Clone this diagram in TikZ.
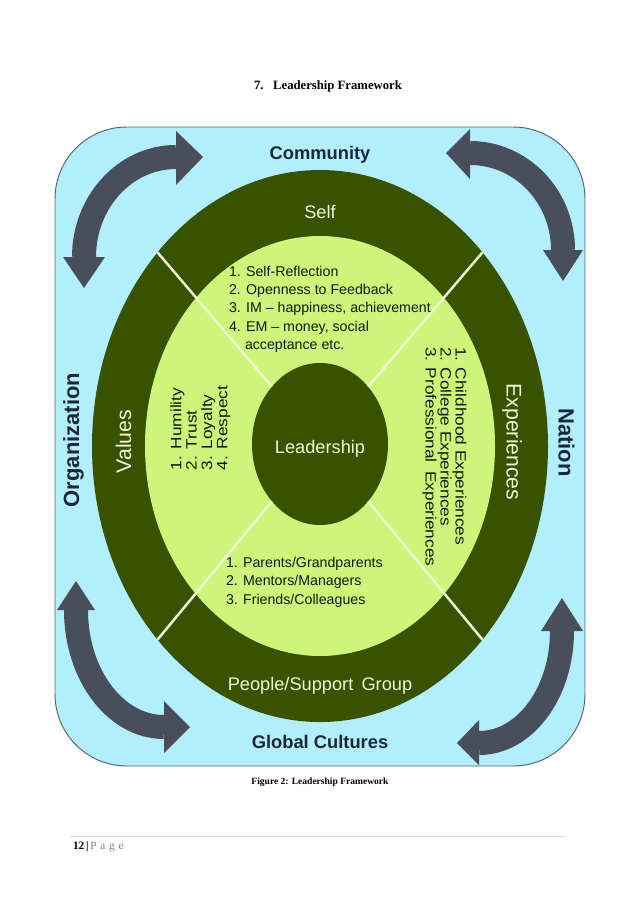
\documentclass[tikz,border=0pt]{standalone}
\usepackage{fontspec}
\usepackage{graphicx}
\setmainfont{Liberation Serif}
\newfontfamily\arial{Liberation Sans}
\usetikzlibrary{shapes.geometric}
\definecolor{bgblue}{RGB}{178,238,252}
\definecolor{darkgreen}{RGB}{56,82,0}
\definecolor{lightgreen}{RGB}{204,245,122}
\definecolor{arrowgray}{RGB}{74,77,90}
\definecolor{navy}{RGB}{28,40,58}
\definecolor{cream}{RGB}{242,245,212}
\definecolor{borderc}{RGB}{85,100,108}
\definecolor{itemc}{RGB}{22,24,20}
\definecolor{rulec}{RGB}{215,215,215}
\definecolor{pagegray}{RGB}{128,128,128}
\begin{document}
\begin{tikzpicture}[x=0.9331pt,y=-0.9331pt,
  box/.style={inner sep=0,outer sep=0},
  ring/.style={ellipse,inner sep=0,outer sep=0,draw=none},
  panel/.style={fill=bgblue,draw=borderc,line width=0.9pt,rounded corners=67pt},
  divider/.style={draw=cream,line width=2.3pt},
  bigarrow/.style={draw=arrowgray,line width=22.4pt},
  arrowtip/.style={fill=arrowgray},
  outerlbl/.style={box,anchor=base,text=navy,font=\arial\bfseries\fontsize{17.1pt}{20pt}\selectfont},
  sidelbl/.style={box,text=navy,font=\arial\bfseries\fontsize{20.5pt}{24pt}\selectfont},
  ringlbl/.style={box,anchor=base,text=cream,font=\arial\fontsize{17pt}{20pt}\selectfont},
  ringside/.style={box,text=cream,font=\arial\fontsize{19.8pt}{22pt}\selectfont},
  item/.style={box,anchor=base west,text=itemc,font=\arial\fontsize{13.25pt}{16pt}\selectfont},
  sideitem/.style={box,anchor=base west,text=itemc,font=\arial\fontsize{14pt}{16pt}\selectfont},
  doctext/.style={box,font=\bfseries\fontsize{11.85pt}{14pt}\selectfont}]
\useasboundingbox (0,0) rectangle (638,903);
\fill[white] (0,0) rectangle (638,903);

% title
\node[doctext,anchor=base west] (title) at (254,89) {7.\hspace{9pt}Leadership Framework};

% panel
\draw[panel] (55,127) rectangle (585,766);

% rings
\node[ring,fill=darkgreen,minimum width=425.5pt,minimum height=515.1pt] (outer) at (320,446) {};
\node[ring,fill=lightgreen,minimum width=326.6pt,minimum height=391.9pt] (inner) at (320,446) {};
\node[ring,fill=darkgreen,minimum width=126.9pt,minimum height=151.2pt] (lead) at (320,444) {};
\foreach \a in {50,130,230,310} \draw[divider] (lead.\a) -- (outer.\a);

% corner arrows
\draw[bigarrow] (176,157) .. controls (125.2,157) and (84,201.8) .. (84,257);
\fill[arrowtip] (176,131) -- (203,157) -- (176,185) -- cycle;
\fill[arrowtip] (63,257) -- (84,288) -- (105,257) -- cycle;

\draw[bigarrow] (470,153) .. controls (521.4,153) and (563,196.4) .. (563,250);
\fill[arrowtip] (470,129) -- (446,153) -- (470,179) -- cycle;
\fill[arrowtip] (543,250) -- (563,281) -- (583,250) -- cycle;

\draw[bigarrow] (76,610) .. controls (76,674.6) and (115.4,727) .. (164,727);
\fill[arrowtip] (57,610) -- (76,581) -- (95,610) -- cycle;
\fill[arrowtip] (164,701) -- (190,727) -- (164,753) -- cycle;

\draw[bigarrow] (562,631) .. controls (562,692.9) and (524.8,743) .. (479,743);
\fill[arrowtip] (541,631) -- (562,598) -- (583,631) -- cycle;
\fill[arrowtip] (479,720) -- (457,743) -- (479,765) -- cycle;

% outer labels
\node[outerlbl] (community) at (320,159) {Community};
\node[outerlbl] (global) at (320,748) {Global Cultures};
\node[sidelbl,rotate=90] (org) at (73.5,440) {Organization};
\node[sidelbl,rotate=-90] (nation) at (566.5,442.5) {Nation};

% ring labels
\node[ringlbl] (self) at (320,218.5) {Self};
\node[ringlbl] (people) at (320,690.5) {People/Support\hspace{0.45em}Group};
\node[ringside,rotate=90] (values) at (123.5,441.5) {Values};
\node[ringside,rotate=-90] (exper) at (512,442) {Experiences};
\node[ringlbl,text=cream] (leadlbl) at (320,453) {Leadership};

% top list
\node[item] (s1) at (229,276) {1. Self-Reflection};
\node[item] (s2) at (229,294.4) {2. Openness to Feedback};
\node[item] (s3) at (229,312.8) {3. IM \textendash{} happiness, achievement};
\node[item] (s4) at (229,331.2) {4. EM \textendash{} money, social};
\node[item] (s5) at (245,349.6) {acceptance etc.};

% bottom list
\node[item] (p1) at (226,567) {1. Parents/Grandparents};
\node[item] (p2) at (226,585.5) {2. Mentors/Managers};
\node[item] (p3) at (226,604) {3. Friends/Colleagues};

% values list
\node[sideitem,rotate=90] (v1) at (181.4,470) {\scalebox{1.15}[1]{1. Humility}};
\node[sideitem,rotate=90] (v2) at (196.6,470) {\scalebox{1.15}[1]{2. Trust}};
\node[sideitem,rotate=90] (v3) at (212.2,470) {\scalebox{1.15}[1]{3. Loyalty}};
\node[sideitem,rotate=90] (v4) at (227.4,470) {\scalebox{1.15}[1]{4. Respect}};

% experiences list
\node[sideitem,rotate=-90] (e1) at (455.6,347) {\scalebox{1.15}[1]{1. Childhood Experiences}};
\node[sideitem,rotate=-90] (e2) at (440.6,347) {\scalebox{1.15}[1]{2. College Experiences}};
\node[sideitem,rotate=-90] (e3) at (425.6,347) {\scalebox{1.15}[1]{3. Professional\hspace{0.5em}Experiences}};

% caption
\node[box,anchor=base,font=\bfseries\fontsize{8.9pt}{11pt}\selectfont] (caption) at (320,784) {Figure 2: Leadership Framework};

% footer
\coordinate (ruleL) at (70,836);
\coordinate (ruleR) at (566,836);
\draw[rulec,line width=0.6pt] (ruleL) -- (ruleR);
\node[box,anchor=base west,font=\fontsize{10.5pt}{12pt}\selectfont] (footer) at (73,849.5) {\textbf{12\,|}\,{\color{pagegray}P\,\,a\,\,g\,\,e}};
\end{tikzpicture}
\end{document}
